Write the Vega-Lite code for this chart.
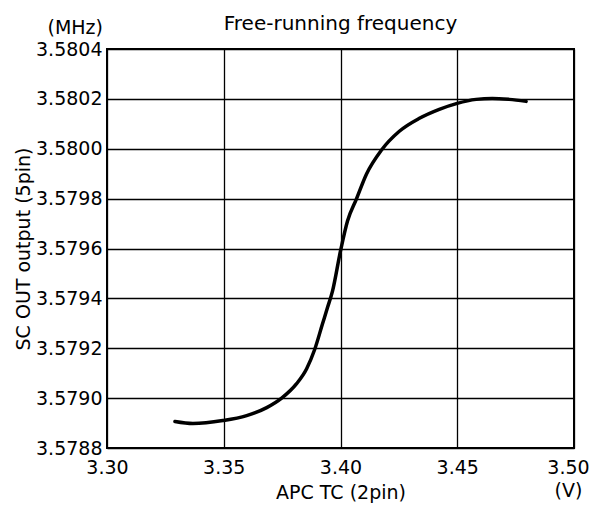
{
  "$schema": "https://vega.github.io/schema/vega-lite/v6.json",
  "width": 467,
  "height": 399,
  "autosize": "none",
  "padding": {"left": 107, "top": 49, "right": 15, "bottom": 63},
  "background": "white",
  "title": {"text": "Free-running frequency", "fontSize": 20, "font": "DejaVu Sans", "fontWeight": "normal", "color": "black", "anchor": "middle", "frame": "group", "baseline": "alphabetic", "offset": -9, "dy": 22},
  "config": {
    "view": {"stroke": "black", "strokeWidth": 2},
    "axis": {"labelFont": "DejaVu Sans", "titleFont": "DejaVu Sans", "labelFontSize": 19, "titleFontSize": 19, "titleFontWeight": "normal", "labelColor": "black", "titleColor": "black", "grid": true, "gridColor": "black", "gridWidth": 1.3, "gridOpacity": 1, "domain": false, "ticks": false}
  },
  "data": {"values": [
    {"v": 3.3291, "f": 3.578906},
    {"v": 3.3368, "f": 3.578898},
    {"v": 3.3496, "f": 3.57891},
    {"v": 3.3598, "f": 3.57893},
    {"v": 3.3684, "f": 3.578962},
    {"v": 3.3748, "f": 3.579},
    {"v": 3.3812, "f": 3.579058},
    {"v": 3.3855, "f": 3.579118},
    {"v": 3.3889, "f": 3.579194},
    {"v": 3.3923, "f": 3.579298},
    {"v": 3.3944, "f": 3.579362},
    {"v": 3.3966, "f": 3.57943},
    {"v": 3.40, "f": 3.57959},
    {"v": 3.4030, "f": 3.57971},
    {"v": 3.4068, "f": 3.579798},
    {"v": 3.4111, "f": 3.579898},
    {"v": 3.4175, "f": 3.579994},
    {"v": 3.4252, "f": 3.58007},
    {"v": 3.4338, "f": 3.580122},
    {"v": 3.4423, "f": 3.580158},
    {"v": 3.45, "f": 3.580182},
    {"v": 3.4581, "f": 3.580198},
    {"v": 3.4650, "f": 3.580202},
    {"v": 3.4722, "f": 3.580198},
    {"v": 3.4795, "f": 3.58019}
  ]},
  "layer": [
    {
      "mark": {"type": "line", "color": "black", "strokeWidth": 3.5, "interpolate": "monotone", "strokeCap": "round"},
      "encoding": {
        "x": {"field": "v", "type": "quantitative", "scale": {"domain": [3.30, 3.50], "nice": false, "zero": false},
          "axis": {"values": [3.30, 3.35, 3.40, 3.45, 3.50], "format": ".2f", "title": "APC TC (2pin)", "labelPadding": 10, "labelLineHeight": 23,
            "labelExpr": "datum.value > 3.49 ? [datum.label, '(V)'] : datum.label",
            "labelOffset": {"condition": {"test": "datum.value > 3.49", "value": -6}, "value": 0},
            "labelFlush": false, "titleY": 35}},
        "y": {"field": "f", "type": "quantitative", "scale": {"domain": [3.5788, 3.5804], "nice": false, "zero": false},
          "axis": {"values": [3.5788, 3.579, 3.5792, 3.5794, 3.5796, 3.5798, 3.58, 3.5802, 3.5804], "format": ".4f", "title": "SC OUT output  (5pin)", "labelPadding": 5, "titleX": -74}}
      }
    },
    {
      "data": {"values": [{"unit": "(MHz)"}]},
      "mark": {"type": "text", "font": "DejaVu Sans", "fontSize": 19, "align": "right", "baseline": "middle", "dx": -4, "dy": -21, "color": "black"},
      "encoding": {
        "text": {"field": "unit"},
        "x": {"datum": 3.30, "type": "quantitative"},
        "y": {"datum": 3.5804, "type": "quantitative"}
      }
    }
  ]
}
